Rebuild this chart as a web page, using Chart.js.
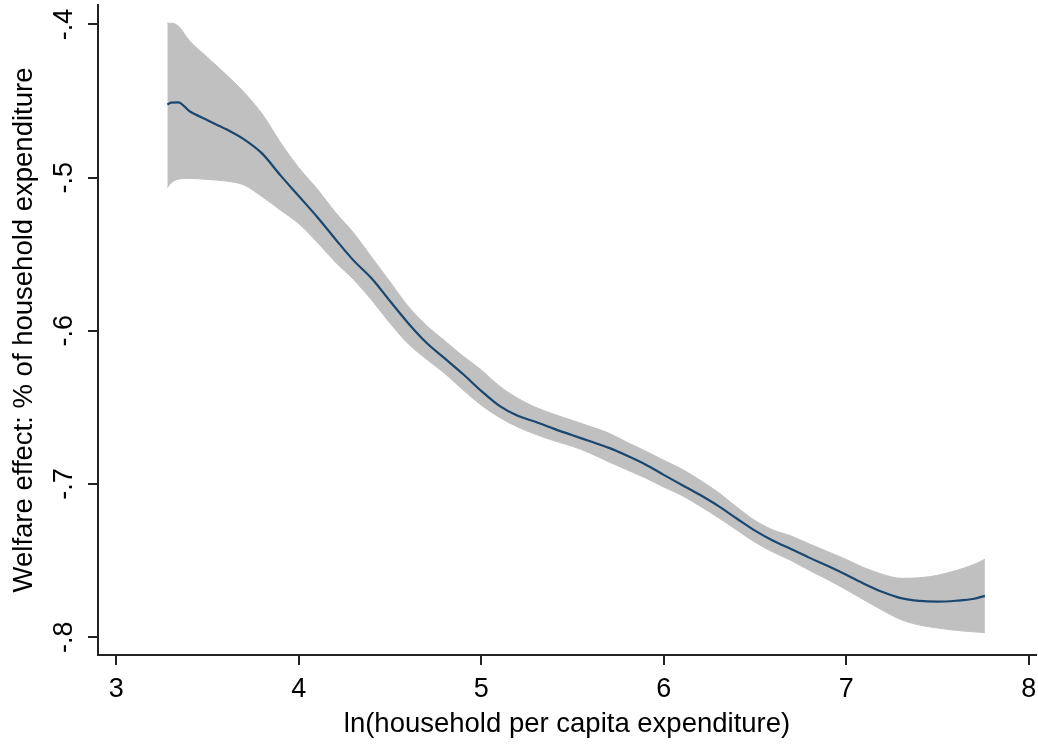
<!DOCTYPE html>
<html>
<head>
<meta charset="utf-8">
<script src="https://cdn.jsdelivr.net/npm/chart.js@4/dist/chart.umd.min.js"></script>
<style>
  html, body { margin: 0; padding: 0; background: #fff; }
  #wrap { width: 1038px; height: 748px; }
</style>
</head>
<body>
<div id="wrap"><canvas id="c" width="1038" height="748"></canvas></div>
<script>
// ln(household per capita expenditure) grid
const lnExp = [3.28, 3.30, 3.34, 3.40, 3.50, 3.60, 3.70, 3.80, 3.90, 4.00,
               4.10, 4.20, 4.30, 4.40, 4.50, 4.60, 4.70, 4.80, 4.90, 5.00,
               5.10, 5.20, 5.30, 5.40, 5.50, 5.60, 5.70, 5.80, 5.90, 6.00,
               6.10, 6.20, 6.30, 6.40, 6.50, 6.60, 6.70, 6.80, 6.90, 7.00,
               7.10, 7.20, 7.30, 7.40, 7.50, 7.60, 7.70, 7.76];

// local polynomial fit of the welfare effect
const fitted = [-0.4522, -0.4510, -0.4508, -0.4565, -0.4625, -0.4683, -0.4750, -0.4843, -0.4985, -0.5120,
                -0.5255, -0.5400, -0.5540, -0.5658, -0.5805, -0.5950, -0.6078, -0.6180, -0.6282, -0.6392,
                -0.6490, -0.6555, -0.6595, -0.6640, -0.6682, -0.6722, -0.6764, -0.6815, -0.6872, -0.6940,
                -0.7006, -0.7072, -0.7144, -0.7225, -0.7304, -0.7370, -0.7425, -0.7482, -0.7535, -0.7592,
                -0.7652, -0.7705, -0.7745, -0.7763, -0.7768, -0.7762, -0.7749, -0.7730];

// upper bound of the 95% confidence interval
const ciUpper = [-0.3992, -0.3992, -0.4010, -0.4105, -0.4215, -0.4325, -0.4442, -0.4585, -0.4770, -0.4935,
                 -0.5072, -0.5225, -0.5360, -0.5520, -0.5680, -0.5840, -0.5965, -0.6065, -0.6165, -0.6255,
                 -0.6360, -0.6440, -0.6500, -0.6545, -0.6585, -0.6625, -0.6668, -0.6728, -0.6785, -0.6845,
                 -0.6903, -0.6975, -0.7055, -0.7150, -0.7238, -0.7300, -0.7340, -0.7392, -0.7442, -0.7492,
                 -0.7547, -0.7590, -0.7615, -0.7612, -0.7596, -0.7565, -0.7525, -0.7491];

// lower bound of the 95% confidence interval
const ciLower = [-0.5065, -0.5035, -0.5010, -0.5005, -0.5012, -0.5022, -0.5048, -0.5125, -0.5212, -0.5300,
                 -0.5420, -0.5550, -0.5665, -0.5800, -0.5950, -0.6085, -0.6185, -0.6278, -0.6385, -0.6485,
                 -0.6565, -0.6628, -0.6676, -0.6718, -0.6754, -0.6800, -0.6856, -0.6908, -0.6960, -0.7020,
                 -0.7075, -0.7145, -0.7220, -0.7300, -0.7380, -0.7445, -0.7500, -0.7565, -0.7625, -0.7690,
                 -0.7758, -0.7825, -0.7885, -0.7920, -0.7940, -0.7955, -0.7965, -0.7970];

const xTicks = [3, 4, 5, 6, 7, 8];
const xTickLabels = ['3', '4', '5', '6', '7', '8'];
const yTicks = [-0.8, -0.7, -0.6, -0.5, -0.4];
const yTickLabels = ['-.8', '-.7', '-.6', '-.5', '-.4'];

const xTitle = 'ln(household per capita expenditure)';
const yTitle = 'Welfare effect: % of household expenditure';

const pts = ys => lnExp.map((x, i) => ({ x: x, y: ys[i] }));

const FONT = '"Liberation Sans", Arial, Helvetica, sans-serif';
const AXIS = '#222222';
const BAND = '#c0c0c0';
const NAVY = '#1a476f';

new Chart(document.getElementById('c'), {
  type: 'line',
  data: {
    datasets: [
      { data: pts(ciUpper), borderColor: BAND, backgroundColor: BAND, borderWidth: 1,
        pointRadius: 0, fill: '+1', cubicInterpolationMode: 'monotone', order: 2 },
      { data: pts(ciLower), borderColor: BAND, backgroundColor: BAND, borderWidth: 1,
        pointRadius: 0, fill: false, cubicInterpolationMode: 'monotone', order: 1 },
      { data: pts(fitted), borderColor: NAVY, borderWidth: 2.2, pointRadius: 0,
        fill: false, cubicInterpolationMode: 'monotone', order: 0 }
    ]
  },
  options: {
    responsive: false,
    animation: false,
    devicePixelRatio: 1,
    layout: { padding: { top: 5, right: 2, left: 0, bottom: 0 } },
    plugins: { legend: { display: false }, tooltip: { enabled: false } },
    scales: {
      x: {
        type: 'linear',
        position: 'bottom',
        min: 2.9,
        max: 8.04,
        afterFit: s => { s.height = 93; s.paddingLeft = 0; s.paddingRight = 0; },
        afterBuildTicks: s => { s.ticks = xTicks.map(v => ({ value: v })); },
        border: { display: true, color: AXIS, width: 2 },
        grid: { display: true, drawOnChartArea: false, drawTicks: true, tickLength: 10,
                color: AXIS, lineWidth: 2 },
        ticks: {
          minRotation: 0, maxRotation: 0, padding: 8, color: '#000',
          font: { family: FONT, size: 27 },
          callback: (v, i) => xTickLabels[i]
        },
        title: {
          display: true, text: xTitle, color: '#000',
          font: { family: FONT, size: 27.5 },
          padding: { top: 0, bottom: 7 }
        }
      },
      y: {
        type: 'linear',
        position: 'left',
        min: -0.8116,
        max: -0.3873,
        afterFit: s => { s.width = 98; s.paddingTop = 0; s.paddingBottom = 0; },
        afterBuildTicks: s => { s.ticks = yTicks.map(v => ({ value: v })); },
        border: { display: true, color: AXIS, width: 2 },
        grid: { display: true, drawOnChartArea: false, drawTicks: true, tickLength: 10,
                color: AXIS, lineWidth: 2 },
        ticks: {
          minRotation: 90, maxRotation: 90, crossAlign: 'center', padding: 8, color: '#000',
          font: { family: FONT, size: 27 },
          callback: (v, i) => yTickLabels[i]
        },
        title: {
          display: true, text: yTitle, color: '#000',
          font: { family: FONT, size: 27.5 },
          padding: { top: 8, bottom: 0 }
        }
      }
    }
  }
});
</script>
</body>
</html>
